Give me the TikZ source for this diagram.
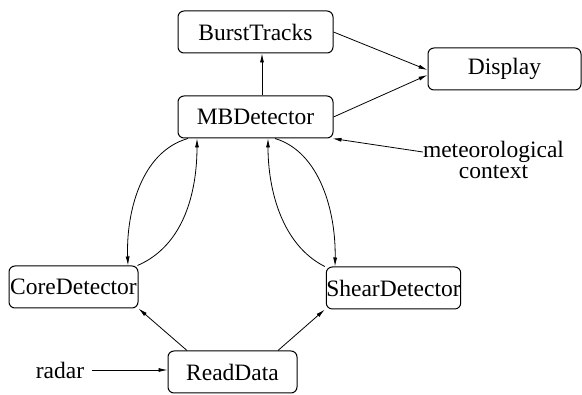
\documentclass[tikz,border=0pt]{standalone}
\usepackage{fontspec}
\setmainfont{Liberation Serif}
\usetikzlibrary{arrows.meta}

\begin{document}
\begin{tikzpicture}[x=1pt, y=-1pt, font=\fontsize{23.5}{25}\selectfont,
	box/.style={draw, rounded corners=6pt, line width=1pt, inner sep=0pt, minimum height=42pt},
	arr/.style={-{Latex[length=9pt,width=4pt]}, line width=.8pt}]
	\useasboundingbox (0,0) rectangle (582,395);
	% boxes
	\node[box, minimum width=155pt] (bt) at (255.5,32) {BurstTracks};
	\node[box, minimum width=153pt] (disp) at (504.5,69) {Display};
	\node[box, minimum width=155pt] (mb) at (255.5,117) {MBDetector};
	\node[box, minimum width=129pt] (core) at (73.5,287) {CoreDetector};
	\node[box, minimum width=129pt] (shear) at (393.5,288) {ShearDetector};
	\node[box, minimum width=129pt] (read) at (232.5,372) {ReadData};
	% inputs
	\node[align=center, inner sep=0pt, font={\fontsize{23.5}{20.5}\selectfont\lineskiplimit=-30pt\relax}] (met) at (493.5,160) {meteorological\\context};
	\node[inner sep=0pt] (radar) at (60,370) {radar};
	% arrows
	\draw[arr] ([xshift=6.5]mb.north) -- ([xshift=6.5]bt.south);
	\draw[arr] (bt.east) -- ([yshift=-1]disp.west);
	\draw[arr] (mb.east) -- ([yshift=-6]disp.west);
	\draw[arr] ([yshift=8]met.west) -- ([xshift=-1]mb.south east);
	\draw[arr] ([xshift=-67.5]mb.south) .. controls (140,152) and (126,215) .. ([xshift=54.5]core.north);
	\draw[arr] ([xshift=-1]core.north east) .. controls (185,245) and (197,190) .. ([xshift=-58.5]mb.south);
	\draw[arr] ([xshift=-1]shear.north west) .. controls (282,245) and (268,190) .. ([xshift=12.5]mb.south);
	\draw[arr] ([xshift=19.5]mb.south) .. controls (320,152) and (336,212) .. ([xshift=-58.5]shear.north);
	\draw[arr] ([xshift=-45.5]read.north) -- (core.south east);
	\draw[arr] ([xshift=45.5]read.north) -- ([xshift=-1]shear.south west);
	\draw[arr] ([xshift=8pt]radar.east) -- (read.west |- radar.east);
\end{tikzpicture}
\end{document}
